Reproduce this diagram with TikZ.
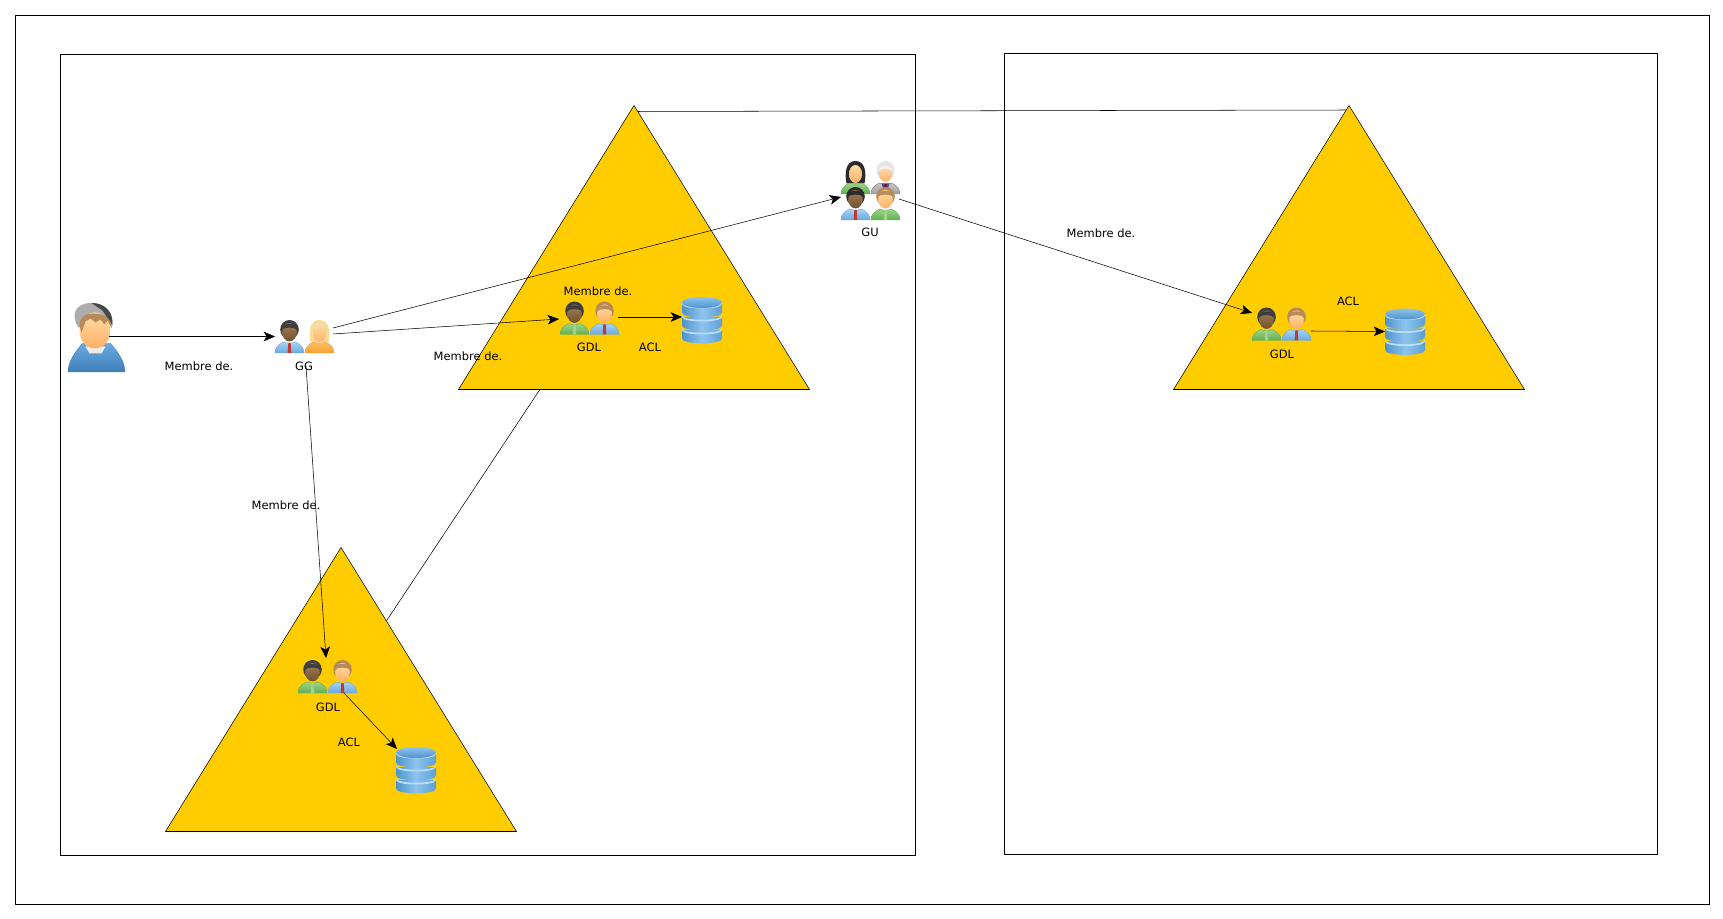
\documentclass[tikz,border=0pt]{standalone}
\usepackage{fontspec}
\setmainfont{DejaVu Sans}
\usetikzlibrary{arrows.meta,calc}
\definecolor{gold}{HTML}{FFCC00}
\tikzset{
  x=0.75pt,y=-0.75pt,
  line width=0.8pt,
  frame/.style={draw=black,fill=white},
  tri/.style={draw=black,fill=gold},
  link/.style={draw=black},
  arrow/.style={draw=black,-{Stealth[length=8.5pt,width=7.2pt,inset=2.2pt]}},
  label/.style={font=\fontsize{8.6pt}{10pt}\selectfont,inner sep=0pt,text=black},
  box/.style 2 args={minimum width=#1*0.75pt,minimum height=#2*0.75pt,inner sep=0pt,outer sep=0pt},
  pics/person/.style n args={6}{code={
    % args: shirt light, shirt dark, tie, hair, skin light, skin dark
    \shade[top color=#1,bottom color=#2,draw=#2,line width=0.3pt]
      (-14.5,16.5) .. controls (-14.5,11) and (-11,8) .. (-6,5.5)
      .. controls (-3,7) and (3,7) .. (6,5.5)
      .. controls (11,8) and (14.5,11) .. (14.5,16.5) -- cycle;
    \fill[#3] (-1.2,6.5) -- (1.2,6.5) -- (1.8,16.5) -- (-1.8,16.5) -- cycle;
    \fill[#4] (0,-7) ellipse [x radius=9.3,y radius=9.5];
    \shade[top color=#5,bottom color=#6] (0,-4.3) ellipse [x radius=7.3,y radius=9.2];
    \fill[#4] (-8.5,-6) .. controls (-8,-15) and (8,-15) .. (8.5,-6)
      .. controls (5,-10) and (-5,-10) .. (-8.5,-6) -- cycle;
  }},
  pics/woman/.style n args={6}{code={
    \fill[#4] (-9,6) .. controls (-11,-4) and (-10,-16.5) .. (0,-16.5)
      .. controls (10,-16.5) and (11,-4) .. (9,6) -- cycle;
    \shade[top color=#1,bottom color=#2,draw=#2,line width=0.3pt]
      (-14.5,16.5) .. controls (-14.5,11) and (-11,8) .. (-6,5.5)
      .. controls (-3,7) and (3,7) .. (6,5.5)
      .. controls (11,8) and (14.5,11) .. (14.5,16.5) -- cycle;
    \shade[top color=#5,bottom color=#6] (0,-3.5) ellipse [x radius=6.5,y radius=9];
  }},
  pics/grayman/.style={code={
    \shade[top color=gray!45,bottom color=gray!75,draw=gray,line width=0.3pt]
      (-14.5,16.5) .. controls (-14.5,11) and (-11,8) .. (-6,5.5)
      .. controls (-3,7) and (3,7) .. (6,5.5)
      .. controls (11,8) and (14.5,11) .. (14.5,16.5) -- cycle;
    \fill[blue!45!gray] (-4,6) -- (4,6) -- (2,12) -- (-2,12) -- cycle;
    \fill[red!65!black] (-1,6.5) -- (1,6.5) -- (1.4,12) -- (-1.4,12) -- cycle;
    \fill[gray!20] (0,-7) ellipse [x radius=9,y radius=9.5];
    \shade[top color=orange!25!white,bottom color=orange!60!white] (0,-4.5) ellipse [x radius=6.8,y radius=8.8];
    \fill[gray!10] (-7,-6) .. controls (-6,-14) and (6,-14) .. (7,-6)
      .. controls (4,-10) and (-4,-10) .. (-7,-6) -- cycle;
  }},
  pics/dbicon/.style={code={
    \foreach \yy in {10,-3,-16}{
      \shade[left color=dbA,right color=dbB,middle color=dbC]
        (-20,\yy) -- (-20,\yy+8.5) .. controls (-20,\yy+15) and (20,\yy+15) .. (20,\yy+8.5)
        -- (20,\yy) -- cycle;
      \fill[dbL] (-20,\yy) .. controls (-20,\yy+6) and (20,\yy+6) .. (20,\yy)
        -- (20,\yy-1.8) .. controls (20,\yy+4.2) and (-20,\yy+4.2) .. (-20,\yy-1.8) -- cycle;
    }
    \shade[top color=dbC,bottom color=dbA] (0,-17.5) ellipse [x radius=20,y radius=5.5];
  }},
  pics/bigman/.style={code={
    \shade[top color=hoodA,bottom color=hoodB,draw=hoodB,line width=0.3pt]
      (-28.5,34.5) .. controls (-28.5,24) and (-21,14) .. (-14,6) -- (14,6)
      .. controls (21,14) and (28.5,24) .. (28.5,34.5) -- cycle;
    \fill[gray!15] (-11,9) -- (9,9) -- (5,16) -- (-7,16) -- cycle;
    \fill[gray!65] (-18,-10) .. controls (-27,-24) and (-20,-34.5) .. (-5,-34.5)
      .. controls (8,-34.5) and (17,-26) .. (16,-12) -- cycle;
    \fill[black!72] (-5,-34.5) .. controls (8,-34.5) and (17,-26) .. (16,-12)
      -- (6,-27) -- cycle;
    \shade[top color=skL,bottom color=skD] (-1.5,-7) ellipse [x radius=15.5,y radius=18];
    \fill[hairB] (-17,-12) .. controls (-17,-20) and (-12,-24) .. (-3,-24)
      .. controls (8,-24) and (15,-19) .. (15.5,-9) -- (11,-17) -- (8,-13)
      -- (4,-18) -- (-1,-15) -- (-6,-19) -- (-11,-16) -- (-15,-5) -- cycle;
  }},
}
\definecolor{dbA}{HTML}{4F93CC}
\definecolor{dbB}{HTML}{5D9FD6}
\definecolor{dbC}{HTML}{8CC4EE}
\definecolor{dbL}{HTML}{B9DDF2}
\definecolor{shB}{HTML}{A6D4F8}
\definecolor{shBd}{HTML}{6AA8E0}
\definecolor{shG}{HTML}{A0D48A}
\definecolor{shGd}{HTML}{5FAE52}
\definecolor{shO}{HTML}{FFBE5C}
\definecolor{shOd}{HTML}{F6A030}
\definecolor{tieR}{HTML}{C03A30}
\definecolor{hairD}{HTML}{3E3E3E}
\definecolor{hairB}{HTML}{B88A58}
\definecolor{hairK}{HTML}{2B2B2B}
\definecolor{hairY}{HTML}{F6DD9A}
\definecolor{skL}{HTML}{FFDDA6}
\definecolor{skD}{HTML}{FFB066}
\definecolor{dkL}{HTML}{A58052}
\definecolor{dkD}{HTML}{6F5030}
\definecolor{hoodA}{HTML}{6AAAE0}
\definecolor{hoodB}{HTML}{3F80BA}
\begin{document}
\begin{tikzpicture}
\useasboundingbox (0,0) rectangle (1723,919);
\fill[white] (0,0) rectangle (1723,919);
% frames
\draw[frame] (15.5,15.5) rectangle (1709,904);
\draw[frame] (60.5,54.5) rectangle (915,855);
\draw[frame] (1004.5,53.5) rectangle (1657,854);
% invisible holders for the triangles
\node[box={351}{284}] (treeA) at (634,247.5) {};
\node[box={351}{284}] (treeB) at (341,689.5) {};
\node[box={351}{284}] (treeC) at (1349,247.5) {};
% trust links, behind the triangles
\draw[link] (treeA.center) -- (treeB.center);
\draw[link] ($(treeA.north)+(0,6)$) -- ($(treeC.north)+(0,4.5)$);
% triangles
\draw[tri] (treeA.north) -- (treeA.south east) -- (treeA.south west) -- cycle;
\draw[tri] (treeB.north) -- (treeB.south east) -- (treeB.south west) -- cycle;
\draw[tri] (treeC.north) -- (treeC.south east) -- (treeC.south west) -- cycle;
% icons
\node[box={57}{69}] (user) at (96.5,337.5) {};
\pic at (user.center) {bigman};
\node[box={59}{33}] (gg) at (304.5,336.5) {};
\pic at ($(gg.center)+(-15,0)$) {person={shB}{shBd}{tieR}{hairD}{dkL}{dkD}};
\pic at ($(gg.center)+(15,0)$) {woman={shO}{shOd}{shO}{hairY}{skL}{skD}};
\node[box={59}{59}] (gu) at (870.5,190.5) {};
\pic at ($(gu.center)+(-15,-13)$) {woman={shG}{shGd}{shG}{hairK}{skL}{skD}};
\pic at ($(gu.center)+(15,-13)$) {grayman};
\pic at ($(gu.center)+(-15,13)$) {person={shB}{shBd}{tieR}{hairK}{dkL}{dkD}};
\pic at ($(gu.center)+(15,13)$) {person={shG}{shGd}{shG}{hairB}{skL}{skD}};
\node[box={59}{34}] (gdlA) at (589.5,318) {};
\pic at ($(gdlA.center)+(-15,0)$) {person={shG}{shGd}{shG}{hairD}{dkL}{dkD}};
\pic at ($(gdlA.center)+(15,0)$) {person={shB}{shBd}{tieR}{hairB}{skL}{skD}};
\node[box={59}{33}] (gdlB) at (327.5,676.5) {};
\pic at ($(gdlB.center)+(-15,0)$) {person={shG}{shGd}{shG}{hairD}{dkL}{dkD}};
\pic at ($(gdlB.center)+(15,0)$) {person={shB}{shBd}{tieR}{hairB}{skL}{skD}};
\node[box={59}{34}] (gdlC) at (1281.5,324) {};
\pic at ($(gdlC.center)+(-15,0)$) {person={shG}{shGd}{shG}{hairD}{dkL}{dkD}};
\pic at ($(gdlC.center)+(15,0)$) {person={shB}{shBd}{tieR}{hairB}{skL}{skD}};
\node[box={40}{46}] (dbA) at (702,320) {};
\pic at (dbA.center) {dbicon};
\node[box={40}{46}] (dbB) at (416,770) {};
\pic at (dbB.center) {dbicon};
\node[box={40}{46}] (dbC) at (1405,331.5) {};
\pic at (dbC.center) {dbicon};
% connectors
\draw[arrow] ($(user.east)+(-16,-1)$) -- (gg.west);
\draw[arrow] ($(gg.east)+(-1,-8.5)$) -- ($(gu.west)+(0,6.5)$);
\draw[arrow] ($(gg.east)+(-1,-2.5)$) -- ($(gdlA.west)+(-1,1)$);
\draw[arrow] ($(gg.center)+(1.5,29.5)$) -- ($(gdlB.center)+(-1.5,-18.5)$);
\draw[arrow] ($(gu.east)+(-1,8.5)$) -- ($(gdlC.west)+(0,-11)$);
\draw[arrow] ($(gdlA.east)+(-1,-1)$) -- ($(dbA.west)+(0,-3)$);
\draw[arrow] ($(gdlB.center)+(16.5,16.5)$) -- ($(dbB.north west)+(1,2)$);
\draw[arrow] ($(gdlC.east)+(0,7)$) -- (dbC.west);
% labels
\node[label] (t1) at (199,366.5) {Membre de.};
\node[label] (t2) at (304,366) {GG};
\node[label] (t3) at (468,356) {Membre de.};
\node[label] (t4) at (598,291.5) {Membre de.};
\node[label] (t5) at (589,347.5) {GDL};
\node[label] (t6) at (650,347) {ACL};
\node[label] (t7) at (870,232.5) {GU};
\node[label] (t8) at (1101,233.5) {Membre de.};
\node[label] (t9) at (1348,301.5) {ACL};
\node[label] (t10) at (1282,354.5) {GDL};
\node[label] (t11) at (286,505.5) {Membre de.};
\node[label] (t12) at (328,707.5) {GDL};
\node[label] (t13) at (349,742.5) {ACL};
\end{tikzpicture}
\end{document}
